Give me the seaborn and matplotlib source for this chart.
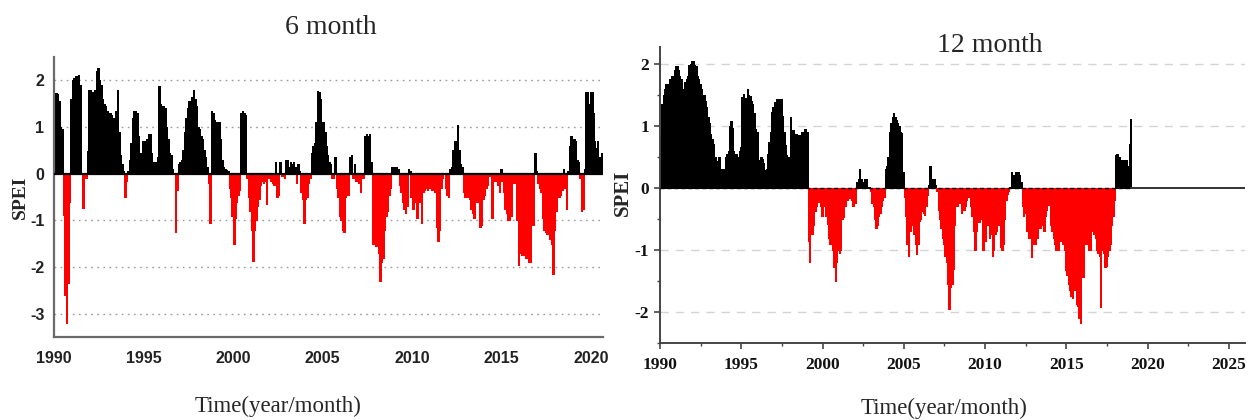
import numpy as np
import pandas as pd
import matplotlib
matplotlib.use("Agg")
import matplotlib.pyplot as plt
import seaborn as sns
from matplotlib.ticker import MultipleLocator

# ---------------- data (monthly SPEI) ----------------
start_year = 1990

spei6 = [
    1.2, 1.73, 1.7, 1.55, 1.0, 0.95, -0.88, -2.6, -3.2, -2.35, -0.6, 1.6,      # 1990
    2.0, 2.05, 2.1, 2.1, 2.12, 1.9, 0.02, -0.74, -0.1, -0.1, 0.48, 1.8,        # 1991
    1.8, 1.75, 1.7, 1.8, 2.2, 2.26, 2.0, 1.9, 1.6, 1.5, 1.45, 1.35,            # 1992
    1.3, 1.3, 1.25, 1.2, 1.2, 1.35, 1.8, 0.9, 0.4, 0.2, 0.05, -0.5,            # 1993
    -0.15, 0.05, 0.3, 0.66, 1.2, 1.35, 1.35, 1.3, 0.8, 0.45, 0.35, 0.7,        # 1994
    0.7, 0.7, 0.75, 0.84, 0.85, 0.45, 0.26, 0.2, 0.25, 0.35, 1.87, 1.5,        # 1995
    1.45, 1.45, 1.4, 1.0, 0.75, 0.45, 0.4, 0.1, 0.02, -1.24, -0.35, 0.2,       # 1996
    0.25, 0.3, 0.5, 0.9, 1.2, 1.4, 1.55, 1.5, 1.65, 1.8, 1.6, 1.45,            # 1997
    1.0, 0.95, 0.8, 0.75, 0.5, 0.35, 0.15, -0.2, -1.05, 1.35, 1.3, 1.15,       # 1998
    1.1, 1.05, 1.1, 0.75, 0.3, 0.15, 0.1, 0.08, 0.05, -0.3, -0.5, -0.9,        # 1999
    -1.5, -0.95, -0.6, -0.45, -0.35, 1.3, 1.35, 1.3, 1.25, -0.1, -0.5, -0.8,   # 2000
    -1.2, -1.88, -1.2, -1.0, -0.7, -0.55, -0.25, -0.15, -0.2, -0.15, -0.66, -0.1,  # 2001
    -0.1, -0.15, -0.2, -0.25, 0.25, -0.5, -0.45, 0.25, -0.05, -0.05, -0.1, 0.3,    # 2002
    0.3, 0.15, 0.25, 0.2, 0.25, 0.15, -0.2, 0.2, 0.05, -0.4, -0.55, -1.05,     # 2003
    -0.55, -0.5, -0.2, -0.1, 0.45, 0.6, 0.65, 1.1, 1.77, 1.75, 1.6, 1.1,       # 2004
    1.1, 0.9, 0.6, 0.4, 0.26, 0.2, -0.1, -0.1, 0.35, -0.3, -0.5, -0.9,         # 2005
    -1.0, -1.2, -1.26, -0.5, -0.45, -0.45, 0.35, 0.4, -0.1, 0.2, -0.15, -0.15, # 2006
    -0.2, -0.4, -0.1, -0.1, 0.8, 0.85, 0.8, 0.85, 0.25, -1.5, -1.5, -1.55,     # 2007
    -1.55, -1.7, -2.3, -1.9, -1.8, -1.2, -0.9, -0.8, -0.45, -0.3, 0.15, 0.15,  # 2008
    0.15, 0.15, 0.1, -0.25, -0.4, -0.6, -0.75, -0.85, -0.7, 0.1, 0.05, -0.5,   # 2009
    -0.75, -0.6, -0.5, -0.95, -0.6, -0.6, -1.05, -0.4, -0.35, -0.3, -0.35, -0.3,  # 2010
    -0.3, -0.35, -0.35, -0.4, -1.15, -1.45, -1.2, -0.3, -0.1, 0.02, -0.3, -0.45,  # 2011
    -0.5, 0.1, 0.15, 0.5, 0.7, 0.7, 1.05, 0.5, 0.2, 0.15, -0.4, -0.5,          # 2012
    -0.45, -0.5, -0.55, -0.75, -0.85, -0.95, -0.6, -0.6, -0.45, -1.15, -1.1, -0.55,  # 2013
    -0.45, -0.3, -0.25, -0.05, -0.05, -0.95, -0.15, -0.15, 0.02, -0.25, -0.4, 0.1,   # 2014
    -0.15, -0.4, -0.75, -0.85, -1.0, -1.0, -0.9, -0.15, -0.2, -0.2, -1.0, -1.95,     # 2015
    -1.7, -1.75, -1.75, -1.5, -1.8, -1.6, -1.9, -1.9, -1.1, -1.1, 0.45, 0.05,        # 2016
    -0.2, -0.3, -0.4, -0.95, -1.2, -1.25, -1.3, -1.3, -1.4, -1.5, -2.15, -1.2,       # 2017
    -0.8, -0.5, -0.5, -0.45, -0.35, 0.1, -0.3, -0.75, 0.05, 0.6, 0.8, 0.75,          # 2018
    0.75, 0.7, 0.3, 0.25, -0.1, -0.8, -0.75, 0.1, 1.75, 1.75, 1.5, 1.75,             # 2019
    1.75, 1.3, 0.7, 0.55, 0.7, 0.35, 0.1, 0.45,                                      # 2020
]

spei12 = [
    0.84, 1.35, 1.5, 1.6, 1.67, 1.67, 1.67, 1.75, 1.8, 1.8, 1.9, 1.96,         # 1990
    1.96, 1.9, 1.8, 1.75, 1.6, 1.55, 1.7, 1.75, 1.8, 1.98, 2.0, 2.04,          # 1991
    2.04, 1.98, 1.96, 1.8, 1.75, 1.67, 1.6, 1.5, 1.5, 1.4, 1.3, 1.14,          # 1992
    1.05, 0.87, 0.78, 0.7, 0.5, 0.28, 0.44, 0.5, 0.3, 0.3, 0.3, 0.28,          # 1993
    0.5, 0.55, 0.6, 1.0, 1.08, 0.97, 0.6, 0.55, 0.55, 0.5, 0.6, 0.66,          # 1994
    1.46, 1.51, 1.43, 1.45, 1.59, 1.5, 1.48, 1.4, 1.35, 1.2, 0.95, 0.9,        # 1995
    0.1, 0.45, 0.5, 0.47, 0.4, 0.29, 0.3, 0.55, 0.74, 0.9, 1.22, 1.3,          # 1996
    1.38, 1.38, 1.43, 1.43, 1.43, 1.43, 1.16, 0.9, 0.69, 0.53, 0.5, 0.15,      # 1997
    1.14, 0.93, 0.93, 0.87, 0.87, 0.85, 0.8, 0.85, 0.9, 0.9, 0.95, 0.95,       # 1998
    0.9, -0.86, -1.2, -0.75, -0.75, -0.6, -0.38, -0.3, -0.22, -0.22, -0.3, -0.45,  # 1999
    -0.3, -0.3, -0.45, -0.59, -0.8, -0.9, -0.9, -1.0, -1.28, -1.5, -1.2, -1.0,     # 2000
    -1.05, -1.0, -0.5, -0.47, -0.3, -0.2, -0.2, -0.16, -0.16, -0.2, -0.3, -0.25,   # 2001
    -0.25, 0.1, 0.15, 0.3, 0.15, 0.1, 0.1, 0.15, 0.15, 0.02, 0.02, -0.05,          # 2002
    -0.25, -0.3, -0.5, -0.65, -0.6, -0.45, -0.4, -0.3, -0.2, -0.15, 0.3, 0.35,     # 2003
    0.5, 0.9, 1.05, 1.15, 1.2, 1.15, 1.1, 1.05, 1.0, 0.9, 0.88, 0.25,              # 2004
    -0.15, -0.45, -0.9, -1.1, -0.7, -0.6, -0.6, -0.75, -0.9, -1.07, -0.9, -0.54,   # 2005
    -0.5, -0.38, -0.4, -0.43, -0.3, -0.11, 0.05, 0.35, 0.12, 0.15, 0.15, 0.05,     # 2006
    -0.05, -0.35, -0.5, -0.65, -0.8, -0.9, -1.1, -1.2, -1.55, -1.95, -1.6, -1.55,  # 2007
    -1.3, -0.6, -0.3, -0.3, -0.15, -0.25, -0.4, -0.3, -0.35, -0.3, -0.2, -0.15,    # 2008
    -0.15, -0.3, -0.45, -0.7, -1.0, -0.7, -0.55, -0.55, -0.5, -0.45, -1.0, -0.7,   # 2009
    -0.85, -0.6, -0.55, -0.8, -0.75, -1.1, -1.0, -0.75, -0.7, -0.6, -0.5, -0.95,   # 2010
    -1.0, -0.9, -0.5, -0.2, -0.1, -0.05, 0.02, 0.25, 0.15, 0.2, 0.25, 0.15,        # 2011
    0.25, 0.2, 0.1, -0.3, -0.45, -0.4, -0.7, -0.7, -0.8, -0.8, -1.12, -0.9,        # 2012
    -0.9, -0.9, -0.8, -0.65, -0.65, -0.55, -0.6, -0.7, -0.45, -0.35, -0.27, -0.27, # 2013
    -0.6, -0.7, -0.8, -0.9, -1.0, -1.0, -1.0, -0.85, -0.75, -0.9, -1.0, -1.33,     # 2014
    -1.4, -1.55, -1.65, -1.75, -1.77, -1.65, -1.65, -1.87, -1.9, -2.1, -2.17, -1.44,  # 2015
    -1.44, -0.75, -0.9, -0.9, -1.0, -1.0, -0.6, -0.7, -0.75, -0.8, -1.0, -1.05,    # 2016
    -1.1, -1.92, -1.0, -1.05, -1.28, -1.26, -1.1, -1.0, -0.9, -0.6, -0.46, -0.2,   # 2017
    0.53, 0.55, 0.5, 0.5, 0.45, 0.45, 0.4, 0.45, 0.45, 0.35, 0.7, 1.11,            # 2018
]

panel_titles = ["6 month", "12 month"]
x_label = "Time(year/month)"
y_label = "SPEI"
pos_color, neg_color = "#000000", "#ff0000"
month_step = 1.0 / 12.0


def frame(vals):
    v = np.asarray(vals, dtype=float)
    t = np.round(start_year + (np.arange(len(v)) + 0.5) * month_step, 6)
    return pd.DataFrame({"time": t, "spei": v,
                         "sign": np.where(v >= 0, "wet", "dry")})


sns.set_theme(style="white")
plt.rcParams["font.family"] = ["Liberation Serif", "DejaVu Serif"]

W, H = 1248, 420
fig = plt.figure(figsize=(W / 100, H / 100), dpi=100)
fig.patch.set_facecolor("white")


def px_axes(x0, x1, y_top, y_bot):
    return fig.add_axes([x0 / W, 1 - y_bot / H, (x1 - x0) / W, (y_bot - y_top) / H])


def draw_bars(ax, df):
    sns.barplot(data=df, x="time", y="spei", hue="sign",
                palette={"wet": pos_color, "dry": neg_color}, saturation=1,
                native_scale=True, width=1.0, dodge=False, errorbar=None,
                legend=False, ax=ax, linewidth=0.5, zorder=2)
    # make neighbouring monthly bars touch (solid block look of the original)
    for p in ax.patches:
        centre = p.get_x() + p.get_width() / 2
        p.set_width(month_step * 1.02)
        p.set_x(centre - month_step * 0.51)
        p.set_edgecolor(p.get_facecolor())
        p.set_antialiased(False)


# ---------------- left panel: 6 month ----------------
ax1 = px_axes(54, 603, 57, 337)
df6 = frame(spei6)
draw_bars(ax1, df6)
ax1.set_xlim(1990, 2020.67)
ax1.set_ylim(-3.5, 2.5)
xt1 = [1990, 1995, 2000, 2005, 2010, 2015, 2020]
ax1.set_xticks(xt1)
ax1.set_xticklabels([str(v) for v in xt1])
ax1.set_yticks([-3, -2, -1, 0, 1, 2])
ax1.set_yticklabels(["-3", "-2", "-1", "0", "1", "2"])
for yv in [-3, -2, -1, 1, 2]:
    ax1.axhline(yv, color="#9a9a9a", lw=1.0, ls=(0, (1.2, 3.2)), zorder=1)
ax1.axhline(0, color="black", lw=1.6, zorder=3)
ax1.set_xlabel("")
ax1.set_ylabel("")
for s in ["top", "right"]:
    ax1.spines[s].set_visible(False)
for s in ["left", "bottom"]:
    ax1.spines[s].set_color("#6a6a6a")
    ax1.spines[s].set_linewidth(1.6)
ax1.tick_params(axis="both", length=0, colors="#222222")
ax1.tick_params(axis="x", pad=10)
ax1.tick_params(axis="y", pad=7)
for lab in ax1.get_xticklabels() + ax1.get_yticklabels():
    lab.set_fontfamily(["Liberation Sans Narrow", "Liberation Sans", "DejaVu Sans"])
    lab.set_fontweight("bold")
    lab.set_fontsize(11.5)
ax1.set_facecolor("white")

# ---------------- right panel: 12 month ----------------
ax2 = px_axes(660, 1245, 47, 343)
df12 = frame(spei12)
draw_bars(ax2, df12)
ax2.set_xlim(1990, 2026)
ax2.set_ylim(-2.5, 2.27)
xt2 = [1990, 1995, 2000, 2005, 2010, 2015, 2020, 2025]
ax2.set_xticks(xt2)
ax2.set_xticklabels([str(v) for v in xt2])
ax2.set_yticks([-2, -1, 0, 1, 2])
ax2.set_yticklabels(["-2", "-1", "0", "1", "2"])
ax2.xaxis.set_minor_locator(MultipleLocator(2.5))
ax2.yaxis.set_minor_locator(MultipleLocator(0.5))
for yv in [-2, -1, 1, 2]:
    ax2.axhline(yv, color="#d4d4d4", lw=1.0, ls=(0, (6, 5)), zorder=1)
data_end = df12["time"].max() + month_step / 2
frac = (data_end - 1990) / (2026 - 1990)
ax2.axhline(0, xmax=frac, color="black", lw=1.0, ls=(0, (3, 2)), zorder=3)
ax2.axhline(0, xmin=frac, color="#333333", lw=1.4, zorder=3)
ax2.set_xlabel("")
ax2.set_ylabel("")
for s in ["top", "right"]:
    ax2.spines[s].set_visible(False)
for s in ["left", "bottom"]:
    ax2.spines[s].set_color("#444444")
    ax2.spines[s].set_linewidth(1.4)
ax2.tick_params(axis="both", which="major", direction="out", length=4,
                width=1.2, colors="#444444", labelcolor="#111111",
                bottom=True, left=True)
ax2.tick_params(axis="both", which="minor", direction="out", length=2.5,
                width=1.0, colors="#444444", bottom=True, left=True)
ax2.tick_params(axis="x", which="major", pad=6)
ax2.tick_params(axis="y", which="major", pad=4)
for lab in ax2.get_xticklabels() + ax2.get_yticklabels():
    lab.set_fontfamily(["Liberation Serif", "DejaVu Serif"])
    lab.set_fontweight("bold")
    lab.set_fontsize(12.5)
ax2.set_facecolor("white")

# ---------------- texts ----------------
serif = ["Liberation Serif", "DejaVu Serif"]
fig.text(331 / W, 1 - 28 / H, panel_titles[0], ha="center", va="center",
         fontsize=20, family=serif)
fig.text(990 / W, 1 - 45 / H, panel_titles[1], ha="center", va="center",
         fontsize=20, family=serif)
fig.text(278 / W, 1 - 406 / H, x_label, ha="center", va="center",
         fontsize=16.5, family=serif)
fig.text(944 / W, 1 - 408 / H, x_label, ha="center", va="center",
         fontsize=16.5, family=serif)
fig.text(20 / W, 1 - 197 / H, y_label, ha="center", va="center",
         rotation=90, fontsize=14, fontweight="bold", family=serif)
fig.text(623 / W, 1 - 193 / H, y_label, ha="center", va="center",
         rotation=90, fontsize=15, fontweight="bold", family=serif)

fig.savefig("out.png", dpi=100, facecolor="white")
